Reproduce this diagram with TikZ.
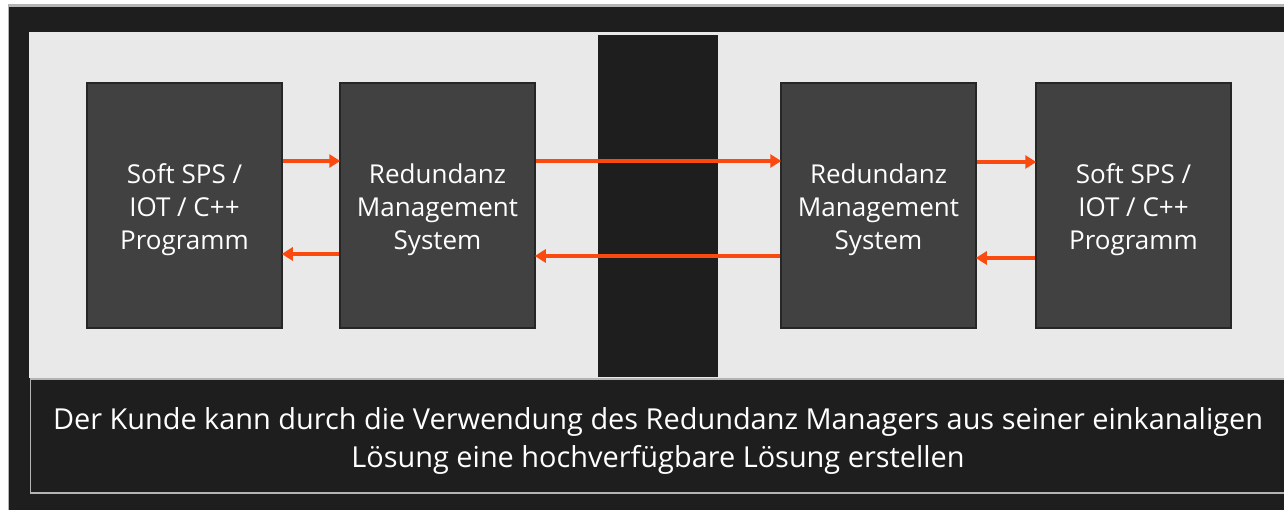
\documentclass[tikz,border=0pt]{standalone}
\usepackage{fontspec}
\setmainfont{Open Sans}
\usetikzlibrary{arrows.meta}
\definecolor{frame}{HTML}{1E1E1E}
\definecolor{panel}{HTML}{E9E9E9}
\definecolor{boxfill}{HTML}{414141}
\definecolor{boxline}{HTML}{262626}
\definecolor{flow}{HTML}{FA4A10}
\definecolor{rim}{HTML}{B4B4B4}
\tikzset{
  block/.style={draw=boxline, line width=1.5pt, fill=boxfill, minimum width=195pt,
    minimum height=245pt, inner sep=0pt},
  blocktext/.style={text=white, align=center, inner sep=0pt,
    font=\fontsize{26}{33}\selectfont},
  flowarrow/.style={draw=flow, line width=3.8pt,
    -{Triangle[length=11pt,width=13pt]}, shorten >=-1pt},
}
\begin{document}
\begin{tikzpicture}[x=1pt,y=-1pt]
\useasboundingbox (0,0) rectangle (1284,510);
% page and dark frame
\fill[white] (0,0) rectangle (1284,510);
\fill[rim] (7.5,4.5) rectangle (1284,510);
\fill[frame] (9,7) rectangle (1284,510);
% light working area
\fill[panel] (29,32) rectangle (1284,378);
% separating bar
\fill[frame] (598,35) rectangle (718,377);
% caption band
\draw[rim, line width=1.2pt, fill=frame] (30.5,379) rectangle (1290,493);
\node[text=white, align=center, font=\fontsize{28.9}{38}\selectfont] (caption) at (658,441)
  {Der Kunde kann durch die Verwendung des Redundanz Managers aus seiner einkanaligen\\
   Lösung eine hochverfügbare Lösung erstellen};
% blocks
\node[block] (sps1) at (184.5,205.5) {};
\node[block] (rms1) at (437.5,205.5) {};
\node[block] (rms2) at (878.5,205.5) {};
\node[block] (sps2) at (1133.5,205.5) {};
% block labels, set slightly below the block centres
\foreach \b/\t in {sps1/{Soft SPS /\\IOT / C++\\Programm}, rms1/{Redundanz\\Management\\System},
                   rms2/{Redundanz\\Management\\System}, sps2/{Soft SPS /\\IOT / C++\\Programm}}
  \node[blocktext] (\b-label) at ([yshift=-4pt]\b.center) {\t};
% data flow
\draw[flowarrow] (sps1.east |- 0,161) -- (rms1.west |- 0,161);
\draw[flowarrow] (rms1.west |- 0,254) -- (sps1.east |- 0,254);
\draw[flowarrow] (rms1.east |- 0,161) -- (rms2.west |- 0,161);
\draw[flowarrow] (rms2.west |- 0,256) -- (rms1.east |- 0,256);
\draw[flowarrow] (rms2.east |- 0,162) -- (sps2.west |- 0,162);
\draw[flowarrow] (sps2.west |- 0,258) -- (rms2.east |- 0,258);
\end{tikzpicture}
\end{document}
